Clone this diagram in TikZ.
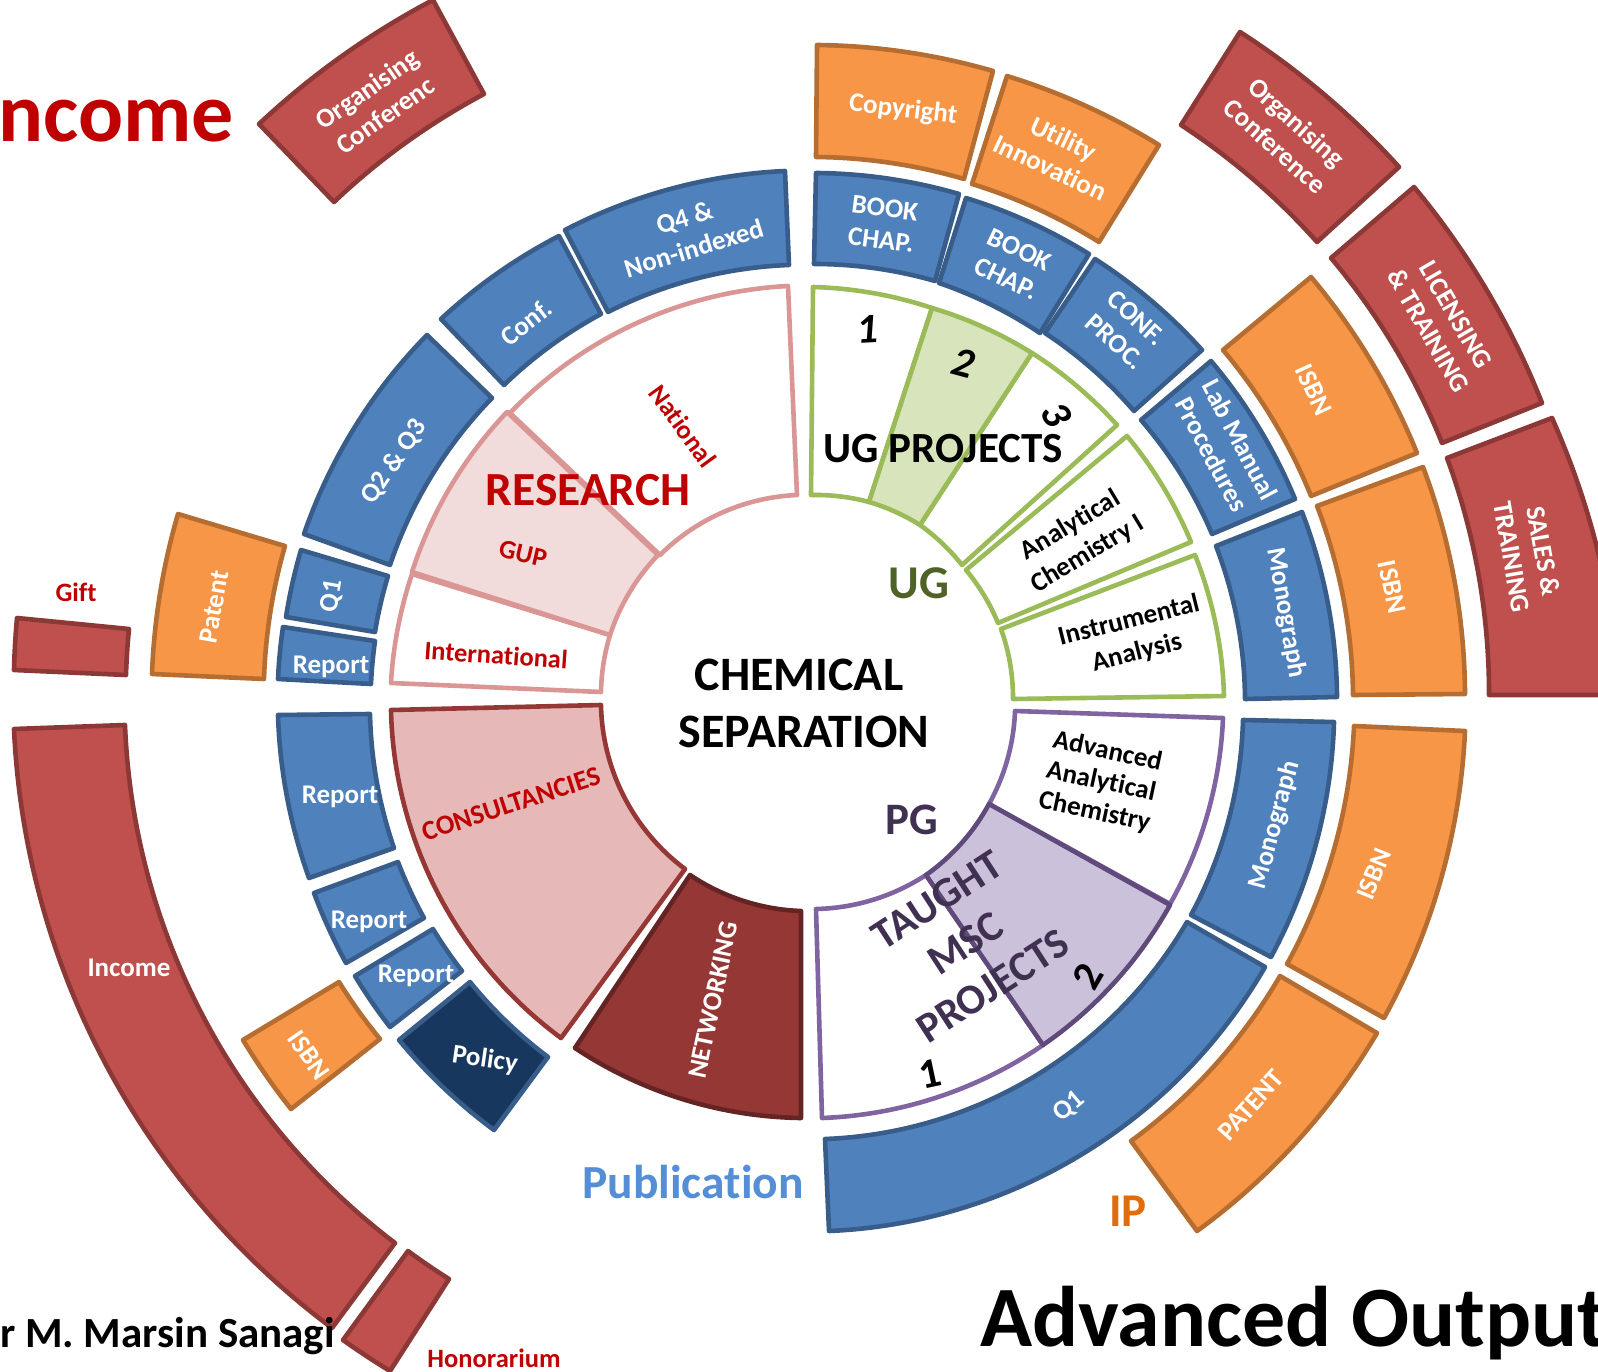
\documentclass[tikz,border=0pt]{standalone}
\usepackage{fontspec}
\setmainfont{Carlito}[Ligatures={NoCommon}]
\definecolor{bluef}{HTML}{4F81BD}\definecolor{bluel}{HTML}{385D8A}
\definecolor{orangef}{HTML}{F79646}\definecolor{orangel}{HTML}{B66D31}
\definecolor{redf}{HTML}{C0504D}\definecolor{redl}{HTML}{8C3836}
\definecolor{navyf}{HTML}{17375E}
\definecolor{netf}{HTML}{953735}\definecolor{netl}{HTML}{632423}
\definecolor{consf}{HTML}{E6B9B8}
\definecolor{pinkl}{HTML}{D99694}\definecolor{pinkf}{HTML}{F2DCDB}
\definecolor{ugl}{HTML}{9BBB59}\definecolor{ugf}{HTML}{D7E4BC}\definecolor{ugt}{HTML}{4F6228}
\definecolor{pgl}{HTML}{8064A2}\definecolor{pgd}{HTML}{604A7B}\definecolor{pgf}{HTML}{CCC1DA}\definecolor{pgt}{HTML}{403152}
\definecolor{crim}{HTML}{C00000}\definecolor{iporange}{HTML}{E36C0A}\definecolor{publ}{HTML}{558ED5}
\tikzset{
  cellbase/.style={line width=4.6pt,line join=round},
  bluecell/.style={cellbase,draw=bluel,fill=bluef},
  orangecell/.style={cellbase,draw=orangel,fill=orangef},
  redcell/.style={cellbase,draw=redl,fill=redf},
  navycell/.style={cellbase,draw=bluel,fill=navyf},
  netcell/.style={cellbase,draw=netl,fill=netf},
  conscell/.style={cellbase,draw=netf,fill=consf},
  pinkcell/.style={cellbase,draw=pinkl,fill=white},
  gupcell/.style={cellbase,draw=pinkl,fill=pinkf},
  ugcell/.style={cellbase,draw=ugl,fill=white},
  ugfill/.style={cellbase,draw=ugl,fill=ugf},
  pgcell/.style={cellbase,draw=pgl,fill=white},
  pgfill/.style={cellbase,draw=pgd,fill=pgf},
  lab/.style={inner sep=0pt,align=center},
  fs/.style 2 args={font=\bfseries\fontsize{#1}{#2}\selectfont},
  small/.style={lab,fs={27}{32},text=white},
  blk/.style={lab,fs={27}{33},text=black},
  crimsm/.style={lab,fs={26.5}{30},text=crim},
  num/.style={lab,font=\bfseries\itshape\fontsize{42}{44}\selectfont,text=black}
}
\def\ringcx{810}\def\ringcy{700}
\def\bendcalc#1,#2,#3,#4;{%
  \pgfmathsetmacro\rr{0.5*(veclen(#1-\ringcx,#2-\ringcy)+veclen(#3-\ringcx,#4-\ringcy))}%
  \pgfmathsetmacro\dd{veclen(#3-#1,#4-#2)}%
  \pgfmathsetmacro\ba{asin(min(0.99,\dd/(2*\rr)))}%
  \pgfmathsetmacro\bl{(4/3)*tan(\ba/2)/(2*sin(\ba))/0.3915}%
}
% style, outer start, outer end, inner end, inner start (clockwise on screen)
\newcommand{\cell}[5]{%
  \bendcalc #2,#3;\let\baO\ba\let\blO\bl
  \bendcalc #4,#5;\let\baI\ba\let\blI\bl
  \draw[#1] (#2) to[bend left=\baO,looseness=\blO] (#3) -- (#4) to[bend right=\baI,looseness=\blI] (#5) -- cycle;%
}
\newcommand{\lab}[5][small]{\node[#1,rotate=#4] (#2) at (#3) {#5};}
\begin{document}
\begin{tikzpicture}[x=1pt,y=-1pt]
\useasboundingbox (0,0) rectangle (1598,1372);
\clip (0,0) rectangle (1598,1372);
% research
\cell{pinkcell}{391,683}{412,574}{610,635}{601,692}
\cell{pinkcell}{510,413}{788,286}{797,495}{660,555}
\cell{gupcell}{412,572}{507,412}{658,555}{610,635}
% consultancies, networking
\cell{conscell}{561,1038}{391,710}{601,705}{685,869}
\cell{netcell}{801,1118}{575,1048}{690,875}{801,911}
% UG
\cell{ugcell}{813,287}{932,308}{869,502}{811,495}
\cell{ugcell}{1032,353}{1117,425}{962,565}{920,525}
\cell{ugfill}{932,308}{1032,353}{920,525}{869,502}
\cell{ugcell}{1127,436}{1191,542}{998,623}{966,570}
\cell{ugcell}{1195,555}{1224,696}{1013,699}{1001,629}
% PG
\cell{pgcell}{1223,718}{1170,904}{989,804}{1015,711}
\cell{pgcell}{1043,1045}{822,1118}{816,909}{926,875}
\cell{pgfill}{1170,905}{1043,1045}{926,875}{989,804}
% blue ring
\cell{bluecell}{565,230}{785,171}{789,265}{608,312}
\cell{bluecell}{441,319}{559,236}{601,314}{504,385}
\cell{bluecell}{304,534}{427,335}{492,398}{390,565}
\cell{bluecell}{286,617}{301,550}{388,576}{375,632}
\cell{bluecell}{278,679}{283,627}{375,641}{371,684}
\cell{bluecell}{816,173}{959,194}{935,281}{814,264}
\cell{bluecell}{966,198}{1089,254}{1040,333}{939,283}
\cell{bluecell}{1095,259}{1202,350}{1134,411}{1045,333}
\cell{bluecell}{1211,361}{1295,499}{1212,534}{1141,420}
\cell{bluecell}{1302,512}{1337,697}{1245,699}{1216,546}
\cell{bluecell}{1334,722}{1271,957}{1191,915}{1243,720}
\cell{bluecell}{1265,967}{829,1231}{825,1139}{1187,922}
\cell{bluecell}{309,878}{278,715}{370,714}{394,848}
\cell{bluecell}{346,963}{314,893}{398,862}{424,918}
\cell{bluecell}{390,1027}{355,976}{433,929}{462,971}
\cell{navycell}{494,1130}{399,1040}{470,982}{548,1057}
% orange
\cell{orangecell}{152,674}{178,514}{285,546}{264,679}
\cell{orangecell}{817,45}{993,71}{964,179}{816,157}
\cell{orangecell}{1007,76}{1159,145}{1099,242}{972,184}
\cell{orangecell}{1311,277}{1417,453}{1311,496}{1223,350}
\cell{orangecell}{1423,467}{1465,694}{1353,695}{1317,506}
\cell{orangecell}{1465,731}{1384,1018}{1287,964}{1354,726}
\cell{orangecell}{1377,1033}{1197,1231}{1131,1141}{1280,976}
\cell{orangecell}{291,1109}{243,1040}{339,982}{380,1039}
% red
\cell{redcell}{259,124}{433,0}{484,94}{334,202}
\cell{redcell}{14,670}{17,618}{129,629}{126,675}
\cell{redcell}{1240,32}{1399,167}{1317,242}{1181,125}
\cell{redcell}{1414,187}{1542,403}{1442,443}{1331,258}
\cell{redcell}{1552,418}{1620,695}{1489,695}{1447,458}
\cell{redcell}{332,1328}{14,729}{125,725}{395,1243}
\cell{redcell}{390,1371}{343,1340}{408,1251}{449,1279}
% labels
\lab{lorg}{376,102}{35}{Organising\\Conferenc}
\lab{lq4}{689,233}{17}{Q4 \&\\Non-indexed}
\lab{lconf}{526,322}{38}{Conf.}
\lab{lq23}{394,462}{56}{Q2 \& Q3}
\lab{lq1s}{332,596}{80}{Q1}
\lab{lrep1}{331,667}{0}{Report}
\lab{lpat}{214,607}{80}{Patent}
\lab{lcopy}{903,110}{-7}{Copyright}
\lab{lutil}{1057,153}{-25}{Utility\\Innovation}
\lab{lbk1}{883,224}{-7}{BOOK\\CHAP.}
\lab{lbk2}{1013,264}{-25}{BOOK\\CHAP.}
\lab{lproc}{1126,330}{-42}{CONF.\\PROC.}
\lab{llm}{1226,447}{-62}{Lab Manual\\Procedures}
\lab{lmono1}{1286,613}{-80}{Monograph}
\lab{lis1}{1314,390}{-65}{ISBN}
\lab{lis2}{1392,587}{-78}{ISBN}
\lab{lorgr}{1286,134}{-42}{Organising\\Conference}
\lab{llic}{1442,323}{-60}{LICENSING\\\& TRAINING}
\lab{lsal}{1528,554}{-80}{SALES \&\\TRAINING}
\lab{lmono2}{1275,825}{75}{Monograph}
\lab{lis3}{1374,874}{68}{ISBN}
\lab{lq1b}{1069,1107}{40}{Q1}
\lab{lpatb}{1251,1105}{48}{PATENT}
\lab{lrep2}{340,797}{0}{Report}
\lab{lrep3}{369,922}{0}{Report}
\lab{lrep4}{416,976}{0}{Report}
\lab{lpol}{485,1060}{-8}{Policy}
\lab{lis4}{309,1055}{-55}{ISBN}
\lab{linc}{129,968}{0}{Income}
\lab{lnet}{713,1000}{78}{NETWORKING}
\lab[crimsm]{lgift}{76,592}{0}{Gift}
\lab[crimsm]{lhon}{494,1358}{0}{Honorarium}
\lab[crimsm]{lnat}{683,426}{-54}{National}
\lab[crimsm]{lgup}{523,554}{-13}{GUP}
\lab[crimsm]{lint}{496,655}{-4}{International}
\lab[{lab,fs={27.5}{30},text=crim}]{lcons}{511,804}{18}{CONSULTANCIES}
\lab[blk]{lana}{1079,540}{31}{Analytical\\Chemistry I}
\lab[blk]{lins}{1133,637}{14}{Instrumental\\Analysis}
\lab[{lab,fs={27}{31},text=black}]{ladv}{1101,782}{-12}{Advanced\\Analytical\\Chemistry}
\lab[{lab,fs={48}{57},text=black}]{lchem1}{799,675}{0}{CHEMICAL}
\lab[{lab,fs={48}{57},text=black}]{lchem2}{804,732}{0}{SEPARATION}
\lab[{lab,fs={47.5}{50},text=crim}]{lres}{588,490}{0}{RESEARCH}
\lab[{lab,fs={43}{44},text=black}]{lugp}{943,449}{0}{UG PROJECTS}
\lab[{lab,fs={47}{50},text=ugt}]{lug}{919,583}{0}{UG}
\lab[{lab,fs={45}{50},text=pgt}]{lpg}{912,820}{0}{PG}
\lab[{lab,fs={42.5}{51},text=pgt}]{ltaught}{965,943}{33}{TAUGHT\\MSC\\PROJECTS}
\lab[num]{ln1}{867,329}{3}{1}
\lab[num]{ln2}{963,363}{-15}{2}
\lab[num]{ln3}{1057,415}{-62}{3}
\lab[{lab,fs={42}{44},text=black}]{ln4}{930,1074}{12}{1}
\lab[{lab,fs={42}{44},text=black}]{ln5}{1088,976}{60}{2}
\lab[{lab,fs={47}{50},text=iporange}]{lip}{1128,1211}{0}{IP}
\lab[{lab,fs={47.5}{50},text=publ}]{lpub}{693,1182}{0}{Publication}
\node[lab,fs={84}{90},text=crim,anchor=east] (ltitle) at (234,121) {ncome};
\node[lab,fs={43}{50},text=black,anchor=west] (lauth) at (0,1336) {r M. Marsin Sanagi};
\node[lab,fs={86}{90},text=black,anchor=west] (ladvo) at (980,1323) {Advanced Output};
\end{tikzpicture}
\end{document}
